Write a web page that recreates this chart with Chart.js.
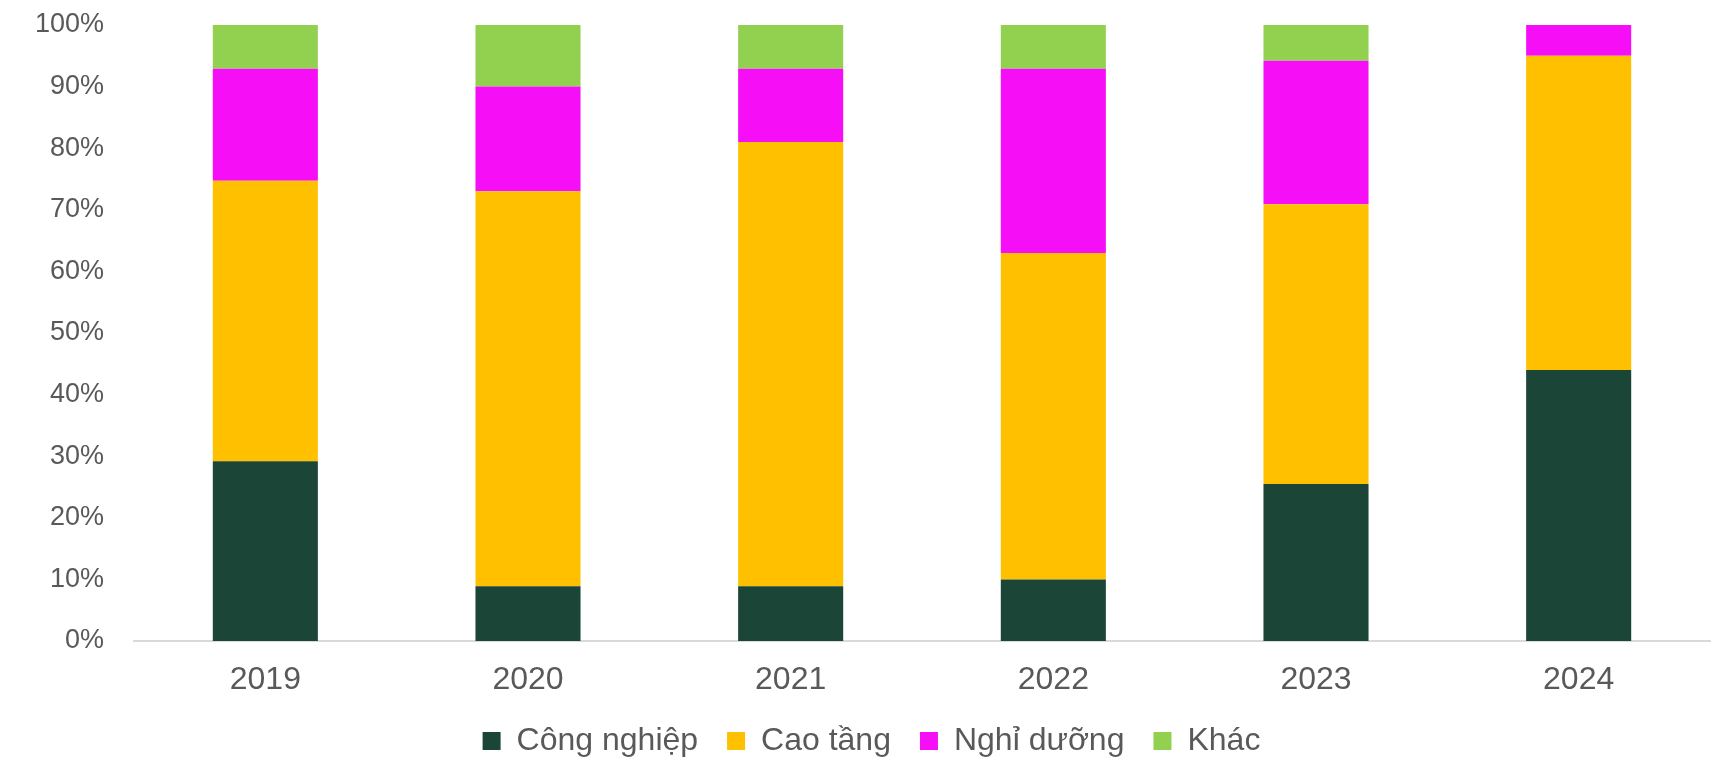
<!DOCTYPE html>
<html lang="vi">
<head>
  <meta charset="UTF-8" />
  <title>Cơ cấu theo năm</title>
  <script src="https://cdn.jsdelivr.net/npm/chart.js"></script>
  <style>
    html, body { margin: 0; padding: 0; background: #fff; }
    #wrap { width: 1713px; height: 757px; position: relative; }
  </style>
</head>
<body>
  <div id="wrap"><canvas id="mixChart"></canvas></div>

<script>
// data (% share per year)
const years = ['2019', '2020', '2021', '2022', '2023', '2024'];
const congNghiep = [29.2, 8.9, 8.9, 10.0, 25.5, 44.0];
const caoTang    = [45.5, 64.1, 72.1, 53.0, 45.4, 51.0];
const nghiDuong  = [18.2, 17.0, 11.9, 29.9, 23.3, 5.0];
const khac       = [7.1, 10.0, 7.1, 7.1, 5.8, 0];
const yTicks     = [0, 10, 20, 30, 40, 50, 60, 70, 80, 90, 100];

const txt = '#595959';
const fontFam = '"Liberation Sans", Arial, sans-serif';

function ds(label, data, color) {
  return {
    label: label,
    data: data,
    backgroundColor: color,
    borderWidth: 0,
    barPercentage: 0.4,
    categoryPercentage: 1
  };
}

new Chart(document.getElementById('mixChart'), {
  type: 'bar',
  data: {
    labels: years,
    datasets: [
      ds('Công nghiệp', congNghiep, '#1B4637'),
      ds('Cao tầng', caoTang, '#FFC000'),
      ds('Nghỉ dưỡng', nghiDuong, '#F60FF6'),
      ds('Khác', khac, '#92D050')
    ]
  },
  options: {
    responsive: true,
    maintainAspectRatio: false,
    animation: false,
    // left padding nudges the centred legend right like the original
    layout: { padding: { top: 25, right: 3, bottom: -10, left: 33 } },
    plugins: {
      tooltip: { enabled: false },
      legend: {
        position: 'bottom',
        labels: {
          color: txt,
          font: { family: fontFam, size: 32 },
          boxWidth: 18,
          boxHeight: 18,
          padding: 29
        }
      }
    },
    scales: {
      x: {
        stacked: true,
        afterFit: s => { s.height = 55; },
        grid: { display: false, drawTicks: false },
        border: { display: true, color: '#D9D9D9', width: 2 },
        ticks: { color: txt, font: { family: fontFam, size: 32 }, padding: 20 }
      },
      y: {
        stacked: true,
        min: 0,
        max: 100,
        afterBuildTicks: s => { s.ticks = yTicks.map(v => ({ value: v })); },
        afterFit: s => { s.width = 101; s.paddingTop = 0; },
        grid: { display: false, drawTicks: false },
        border: { display: false },
        ticks: {
          color: txt,
          font: { family: fontFam, size: 27 },
          padding: 30,
          callback: v => v + '%'
        }
      }
    }
  }
});
</script>
</body>
</html>
